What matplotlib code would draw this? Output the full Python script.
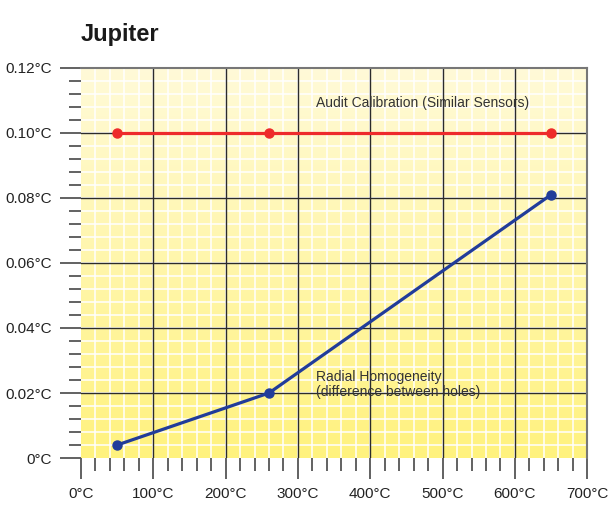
import numpy as np
import matplotlib.pyplot as plt
from matplotlib.colors import LinearSegmentedColormap
from matplotlib.ticker import MultipleLocator, FuncFormatter

plt.rcParams['font.family'] = ['Liberation Sans', 'DejaVu Sans']

# data
audit_x = [50, 260, 650]
audit_y = [0.10, 0.10, 0.10]
radial_x = [50, 260, 650]
radial_y = [0.004, 0.020, 0.081]

fig = plt.figure(figsize=(6.13, 5.07), dpi=100)
ax = fig.add_axes([0.132, 0.0966, 0.826, 0.7694])

# yellow gradient background
cmap = LinearSegmentedColormap.from_list('yel', ['#FFF27E', '#FFFAD8'])
grad = np.linspace(0, 1, 256).reshape(-1, 1)
ax.imshow(grad, extent=[0, 700, 0, 0.12], origin='lower', aspect='auto',
          cmap=cmap, zorder=0)

ax.set_xlim(0, 700)
ax.set_ylim(0, 0.12)

ax.xaxis.set_major_locator(MultipleLocator(100))
ax.xaxis.set_minor_locator(MultipleLocator(20))
ax.yaxis.set_major_locator(MultipleLocator(0.02))
ax.yaxis.set_minor_locator(MultipleLocator(0.004))
ax.xaxis.set_major_formatter(FuncFormatter(lambda v, p: f'{v:.0f}°C'))
ax.yaxis.set_major_formatter(FuncFormatter(lambda v, p: '0°C' if v == 0 else f'{v:.2f}°C'))

# white minor grid, dark major grid on top of it
for xv in np.arange(20, 700, 20):
    ax.axvline(xv, color='white', linewidth=1.1, zorder=1)
for yv in np.arange(0.004, 0.12, 0.004):
    ax.axhline(yv, color='white', linewidth=1.1, zorder=1)
for xv in range(100, 700, 100):
    ax.axvline(xv, color='#2b2b2b', linewidth=1.0, zorder=2)
for yv in [0.02, 0.04, 0.06, 0.08, 0.10]:
    ax.axhline(yv, color='#2b2b2b', linewidth=1.0, zorder=2)

ax.tick_params(which='major', length=15, width=1.3, color='#555555',
               labelsize=11, pad=6, labelcolor='#222222')
ax.tick_params(which='minor', length=9, width=1.3, color='#555555')

for s in ['left', 'bottom']:
    ax.spines[s].set_visible(False)
for s in ['top', 'right']:
    ax.spines[s].set_color('#777777')
    ax.spines[s].set_linewidth(1.5)

ax.plot(audit_x, audit_y, color='#EE2B2B', linewidth=2.3, marker='o',
        markersize=6.5, zorder=4, clip_on=False)
ax.plot(radial_x, radial_y, color='#213C9A', linewidth=2.3, marker='o',
        markersize=6.5, zorder=4, clip_on=False)

ax.text(325, 0.1093, 'Audit Calibration (Similar Sensors)', fontsize=10,
        color='#333333', va='center', zorder=5)
ax.text(325, 0.0226, 'Radial Homogeneity\n(difference between holes)',
        fontsize=10, color='#333333', va='center', linespacing=1.15, zorder=5)

fig.text(0.131, 0.932, 'Jupiter', fontsize=17, fontweight='bold',
         color='#1a1a1a', va='center')

fig.savefig('out.png', dpi=100)
